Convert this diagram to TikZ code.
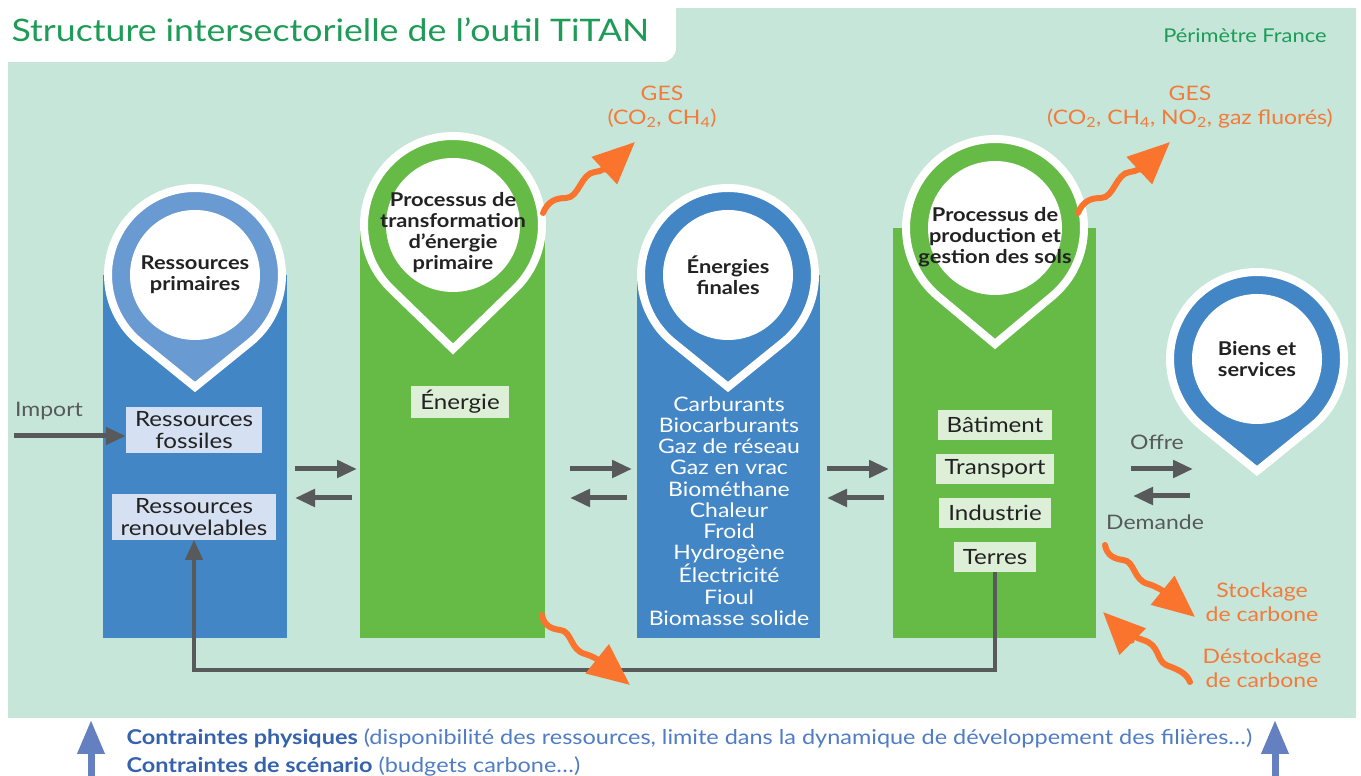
\documentclass[tikz,border=0pt]{standalone}
\usepackage{fontspec}
\setmainfont{Lato}[FakeStretch=1.15]
\usetikzlibrary{arrows.meta}

\definecolor{panel}{HTML}{C5E6D9}
\definecolor{titlegreen}{HTML}{1E9C57}
\definecolor{colblue}{HTML}{4386C6}
\definecolor{ringblue}{HTML}{6A9AD2}
\definecolor{colgreen}{HTML}{66BB47}
\definecolor{boxblue}{HTML}{D5E1F2}
\definecolor{boxgreen}{HTML}{DDEFD7}
\definecolor{flowgrey}{HTML}{58595B}
\definecolor{ges}{HTML}{FA742E}
\definecolor{gestext}{HTML}{F47A3A}
\definecolor{inkdark}{HTML}{222222}
\definecolor{cblue}{HTML}{3562AD}
\definecolor{cbluelight}{HTML}{4F7CC4}
\definecolor{arrowblue}{HTML}{6480C1}

\begin{document}
\begin{tikzpicture}[x=1pt,y=1pt,
  flow/.style={-{Triangle[length=20pt,width=17pt]},line width=5pt,draw=flowgrey},
  wave/.style={-{Triangle[length=42pt,width=36pt]},line width=6pt,draw=ges,line cap=round},
  pinbody/.style={draw=white,line width=8pt},
  pinlabel/.style={inner sep=0pt,align=center,text=inkdark,font=\bfseries\fontsize{19}{21}\selectfont},
  bluetag/.style={fill=boxblue,text=inkdark,align=center,inner xsep=9pt,inner ysep=4pt,font=\fontsize{21}{22}\selectfont},
  greentag/.style={bluetag,fill=boxgreen,minimum height=30pt},
  side/.style={text=flowgrey,font=\fontsize{20}{22}\selectfont},
  geslabel/.style={text=gestext,align=center,font=\fontsize{20}{24}\selectfont},
  push/.style={-{Triangle[length=34pt,width=26pt]},line width=7pt,draw=arrowblue}]

\useasboundingbox (0,0) rectangle (1361,776);

% background panel and title tab
\fill[panel] (8,58) rectangle (1356,768);
\fill[white,rounded corners=14pt] (-20,714) rectangle (676,800);
\node[anchor=base west,text=titlegreen,font=\fontsize{31}{36}\selectfont] (title) at (8,734) {Structure intersectorielle de l’outil TiTAN};
\node[anchor=east,text=titlegreen,font=\fontsize{19}{22}\selectfont] (scope) at (1330,740) {Périmètre France};

% columns
\fill[colblue] (103,138) rectangle (287,501);
\fill[colgreen] (360,138) rectangle (545,548);
\fill[colblue] (637,138) rectangle (820,501);
\fill[colgreen] (893,138) rectangle (1096,548);

% pin heads: centre / ring colour / tip distance / ring radius / hole radius
\coordinate (p1) at (195,501);
\coordinate (p2) at (453,551);
\coordinate (p3) at (728,501);
\coordinate (p4) at (995,548);
\coordinate (p5) at (1257,417);
\foreach \c/\col/\d/\r/\h in {p1/ringblue/112/87/65,p2/colgreen/124/89/67,p3/colblue/112/87/65,p4/colgreen/116/89/67,p5/colblue/112/87/65}{
  \pgfmathsetmacro\a{acos(\r/\d)}
  \path[pinbody,fill=\col] ([shift={(0,-\d)}]\c) -- ([shift={(-90+\a:\r)}]\c)
    arc[start angle=-90+\a,end angle=270-\a,radius=\r] -- cycle;
  \fill[white] (\c) circle[radius=\h];
}

\node[pinlabel] (primary) at (p1) {Ressources\\primaires};
\node[pinlabel] (transform) at ([yshift=-8]p2) {Processus de\\transformation\\d’énergie\\primaire};
\node[pinlabel] (final) at (p3) {Énergies\\finales};
\node[pinlabel] (landuse) at ([yshift=-9]p4) {Processus de\\production et\\gestion des sols};
\node[pinlabel] (goods) at (p5) {Biens et\\services};

% column contents
\node[bluetag] (fossil) at (194,346) {Ressources\\fossiles};
\node[bluetag] (renew) at (194,259) {Ressources\\renouvelables};
\node[greentag] (energy) at (460,374) {Énergie};
\node[text=white,align=center,font=\fontsize{20}{21.2}\selectfont] (carriers) at (729,265)
  {Carburants\\Biocarburants\\Gaz de réseau\\Gaz en vrac\\Biométhane\\Chaleur\\Froid\\Hydrogène\\Électricité\\Fioul\\Biomasse solide};
\node[greentag] (building) at (995,351) {Bâtiment};
\node[greentag] (transport) at (995,307) {Transport};
\node[greentag] (industry) at (995,263) {Industrie};
\node[greentag] (land) at (995,219) {Terres};

% exchanges between sectors
\foreach \x in {295,570,827}{
  \draw[flow] (\x,307) -- ++(62,0);
  \draw[flow] (\x+57,278) -- ++(-57,0);
}
\node[side] (import) at (49,365) {Import};
\coordinate (importstart) at (14,340);
\draw[flow] (importstart) -- (fossil.west |- importstart);

\node[side] (offer) at (1157,334) {Offre};
\node[side] (demand) at (1155,254) {Demande};
\draw[flow] (1131,307) -- ++(62,0);
\draw[flow] (1190,280) -- ++(-57,0);

% land back to renewable resources
\coordinate (loopbottom) at (600,106);
\draw[flow,line width=4pt] (land.south) |- (loopbottom) -| (renew.south);

% emissions and carbon storage
\coordinate (ges1) at (543,563);
\coordinate (ges1tip) at (635,634);
\draw[wave] (ges1) .. controls (548,575) and (556,578) .. (566,578)
  .. controls (579,578) and (581,603) .. (595,604)
  .. controls (607,605) and (620,620) .. (ges1tip);
\node[geslabel] (ges1text) at (662,669) {GES\\(CO\textsubscript{2}, CH\textsubscript{4})};

\coordinate (ges2) at (1078,563);
\coordinate (ges2tip) at (1170,634);
\draw[wave] (ges2) .. controls (1083,575) and (1091,578) .. (1101,578)
  .. controls (1114,578) and (1116,603) .. (1130,604)
  .. controls (1142,605) and (1155,620) .. (ges2tip);
\node[geslabel] (ges2text) at (1190,669) {GES\\(CO\textsubscript{2}, CH\textsubscript{4}, NO\textsubscript{2}, gaz fluorés)};

\coordinate (sink1) at (542,161);
\coordinate (sink1tip) at (630,91);
\draw[wave] (sink1) .. controls (544,150) and (552,147) .. (560,146)
  .. controls (572,145) and (570,126) .. (585,122)
  .. controls (600,118) and (615,103) .. (sink1tip);

\coordinate (sink2) at (1105,231);
\coordinate (sink2tip) at (1195,159);
\draw[wave] (sink2) .. controls (1107,220) and (1115,217) .. (1123,216)
  .. controls (1135,215) and (1133,196) .. (1148,192)
  .. controls (1163,188) and (1178,173) .. (sink2tip);
\node[geslabel] (storage) at (1262,174) {Stockage\\de carbone};

\coordinate (release) at (1190,94);
\coordinate (releasetip) at (1103,164);
\draw[wave] (release) .. controls (1186,104) and (1176,107) .. (1166,111)
  .. controls (1156,116) and (1160,131) .. (1143,136)
  .. controls (1130,140) and (1115,152) .. (releasetip);
\node[geslabel] (destorage) at (1262,108) {Déstockage\\de carbone};

% constraints
\coordinate (push1) at (91,-5);
\coordinate (push1tip) at (91,56);
\coordinate (push2) at (1275,-5);
\coordinate (push2tip) at (1275,56);
\draw[push] (push1) -- (push1tip);
\draw[push] (push2) -- (push2tip);
\node[anchor=west,font=\fontsize{20.4}{22}\selectfont,text=cbluelight] (physical) at (123,38)
  {\textcolor{cblue}{\bfseries Contraintes physiques} (disponibilité des ressources, limite dans la dynamique de développement des filières…)};
\node[anchor=west,font=\fontsize{20.4}{22}\selectfont,text=cbluelight] (scenario) at (123,10)
  {\textcolor{cblue}{\bfseries Contraintes de scénario} (budgets carbone…)};
\end{tikzpicture}
\end{document}
